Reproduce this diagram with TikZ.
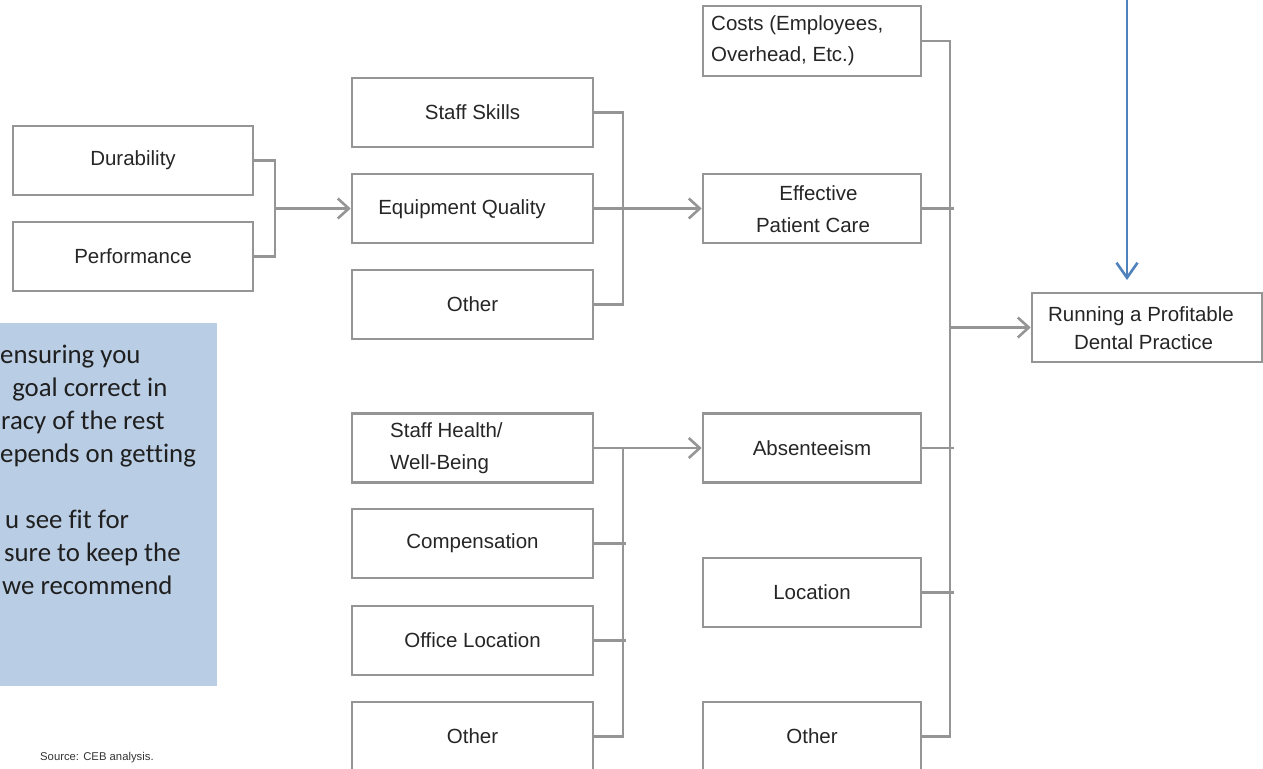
\documentclass[tikz,border=0pt]{standalone}
\usepackage{fontspec}
\setmainfont{Liberation Sans}
\newfontfamily\notefont[Ligatures=NoCommon]{Carlito}
\usetikzlibrary{arrows.meta}
\definecolor{linegray}{HTML}{959595}
\definecolor{notefill}{HTML}{B9CDE5}
\definecolor{arrowblue}{HTML}{4F81BD}
\definecolor{textdark}{HTML}{262626}

\begin{document}
\begin{tikzpicture}[x=1pt,y=-1pt,
  box/.style={draw=linegray, line width=2.6pt, rectangle, inner sep=0pt,
    minimum height=69pt, minimum width=241pt, text=textdark,
    font=\fontsize{20.5}{32}\selectfont, align=center},
  boxtext/.style={inner sep=0pt, text=textdark, font=\fontsize{20.5}{32}\selectfont},
  link/.style={draw=linegray, line width=2.6pt},
  flow/.style={link, -{Straight Barb[length=11pt,width=20pt]}},
  feedarrow/.style={draw=arrowblue, line width=2.6pt, -{Straight Barb[length=15pt,width=21pt]}},
  notetext/.style={anchor=base west, inner sep=0pt, text=black!88, font=\notefont\fontsize{26.8}{33}\selectfont}
]
\useasboundingbox (0,0) rectangle (1263,768);

% shaded note panel
\fill[notefill] (0,323) rectangle (217,686);
\begin{scope}
  \clip (0,323) rectangle (217,686);
  \node[notetext] (n1) at (0,363) {ensuring you};
  \node[notetext] (n2) at (6,396) {\ goal correct in};
  \node[notetext] (n3) at (1,429) {racy of the rest};
  \node[notetext] (n4) at (0,462) {epends on getting};
  \node[notetext] (n5) at (5,528) {u see fit for};
  \node[notetext] (n6) at (4,561) {sure to keep the};
  \node[notetext] (n7) at (2,594) {we recommend};
\end{scope}

% first column
\node[box, minimum width=240pt] (dur) at (133,160.5) {Durability};
\node[box, minimum width=240pt] (perf) at (133,256.5) {Performance};

% second column
\node[box] (skills) at (472.5,112.5) {Staff Skills};
\node[box] (equip) at (472.5,208.5) {};
\node[boxtext] (equiplbl) at (462,209) {Equipment Quality};
\node[box] (other1) at (472.5,304.5) {Other};
\node[box] (health) at (472.5,448) {};
\node[boxtext, anchor=west, align=left] (healthlbl) at (390,448) {Staff Health/\\Well-Being};
\node[box] (comp) at (472.5,543.5) {Compensation};
\node[box] (office) at (472.5,640.5) {Office Location};
\node[box] (other2) at (472.5,736.5) {Other};

% third column
\node[box, minimum width=218pt, minimum height=70pt] (costs) at (812,41) {};
\node[boxtext, anchor=west, align=left, font=\fontsize{20.5}{31}\selectfont] (costslbl) at (711,41) {Costs (Employees,\\Overhead, Etc.)};
\node[box, minimum width=218pt] (care) at (812,208.5) {};
\node[boxtext, align=center] (carelbl) at (813,209) {\hspace*{11pt}Effective\\Patient Care};
\node[box, minimum width=218pt] (absent) at (812,448) {Absenteeism};
\node[box, minimum width=218pt] (loc) at (812,592.5) {Location};
\node[box, minimum width=218pt] (other3) at (812,736.5) {Other};

% goal
\node[box, minimum width=230pt] (run) at (1147,327.5) {};
\node[boxtext, align=center, font=\fontsize{20.5}{28}\selectfont] (runlbl) at (1141,328) {Running a Profitable\\\hspace*{5pt}Dental Practice};

% junction points
\coordinate (j1) at (275,208.5);
\coordinate (j2) at (623,208.5);
\coordinate (j3) at (623,448);
\coordinate (j4) at (950,327.5);

% first column into equipment quality
\draw[link] (dur.east) -| (j1);
\draw[link] (perf.east) -| (j1);
\draw[flow] (j1) -- (equip.west);

% upper second column into patient care
\draw[link] (skills.east) -| (j2);
\draw[link] (other1.east) -| (j2);
\draw[flow] (equip.east) -- (care.west);

% lower second column into absenteeism
\draw[flow] (health.east) -- (absent.west);
\draw[link] (j3) |- (other2.east);
\draw[link] (comp.east) -- ([xshift=3pt]comp.east -| j3);
\draw[link] (office.east) -- ([xshift=3pt]office.east -| j3);

% third column into the goal
\draw[link] (costs.east) -| (j4);
\draw[link] (other3.east) -| (j4);
\draw[link] (care.east) -- ([xshift=4pt]care.east -| j4);
\draw[link] (absent.east) -- ([xshift=4pt]absent.east -| j4);
\draw[link] (loc.east) -- ([xshift=4pt]loc.east -| j4);
\draw[flow] (j4) -- (run.west);

% incoming arrow from above
\coordinate (feedtop) at (1127,-2);
\coordinate (feedend) at (1127,280);
\draw[feedarrow] (feedtop) -- (feedend);

% footnote
\node[anchor=west, inner sep=0pt, text=black!80, font=\fontsize{11.3}{13}\selectfont] (src) at (40,758) {Source: CEB analysis.};
\end{tikzpicture}
\end{document}
